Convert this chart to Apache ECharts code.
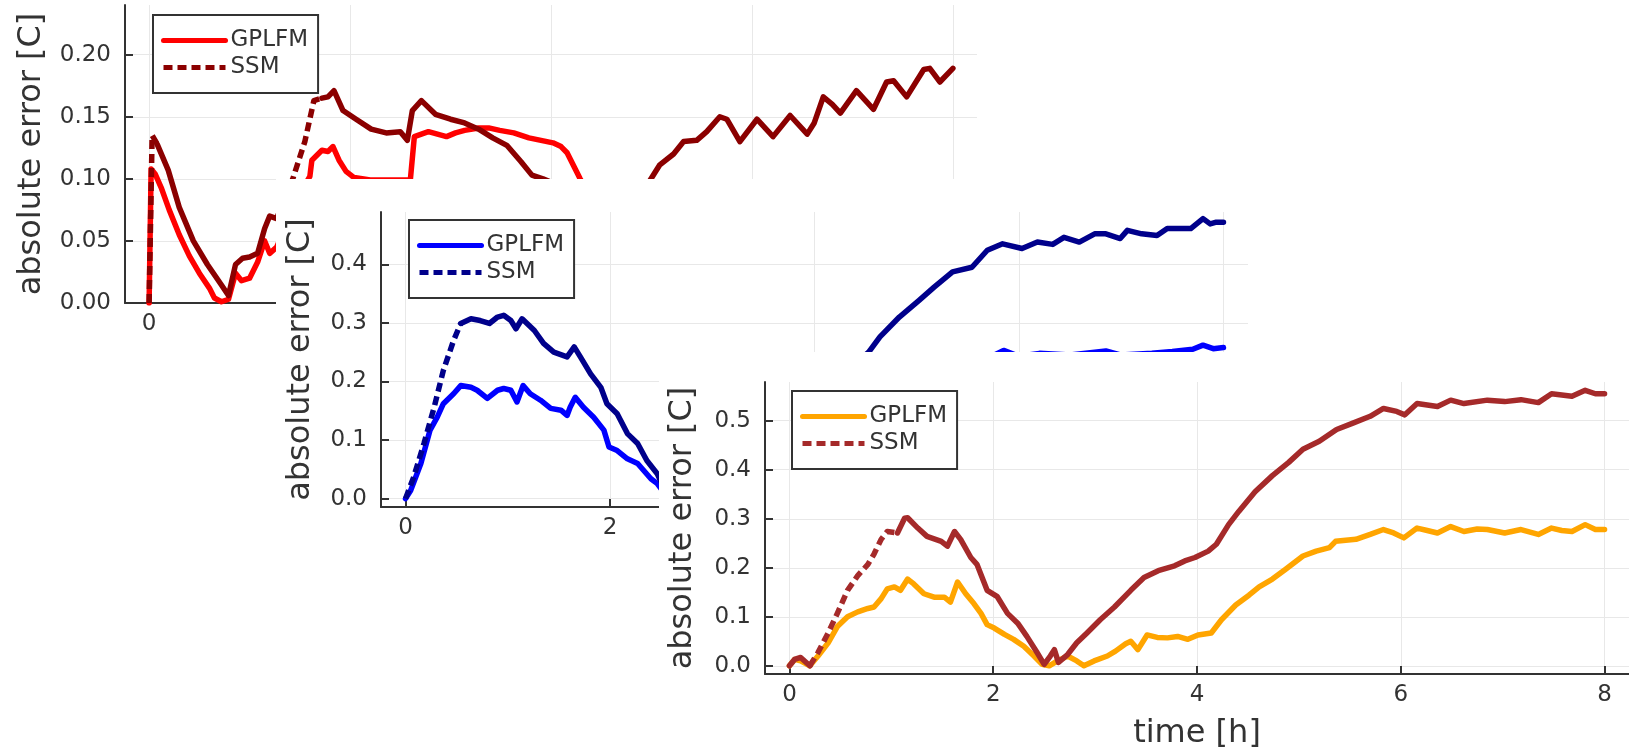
<!DOCTYPE html>
<html lang="en">
<head>
    <meta charset="UTF-8">
    <title>absolute error, three runs</title>
    <script src="https://cdn.jsdelivr.net/npm/echarts@6/dist/echarts.min.js"></script>
    <style>
        body {
            margin: 0;
            width: 1629px;
            height: 755px;
            overflow: hidden;
            background: #fff;
        }
        .fig {
            position: absolute;
            background: #fff;
        }
    </style>
</head>
<body>
<div class="fig" id="fig1" style="left:0;top:0;width:1629px;height:755px;z-index:1"></div>
<div class="fig" id="fig2" style="left:276px;top:179px;width:1353px;height:576px;z-index:2"></div>
<div class="fig" id="fig3" style="left:659px;top:352px;width:970px;height:403px;z-index:3"></div>

<script>
    const FONT = 'DejaVu Sans';
    const xTicks = [0, 2, 4, 6, 8];

    // plot 1 (red) - [time h, abs error]
    const gplfm1 = [[0,0],[0.02,0.108],[0.06,0.104],[0.12,0.093],[0.2,0.075],[0.3,0.055],[0.4,0.038],[0.5,0.024],
        [0.6,0.012],[0.65,0.004],[0.72,0.001],[0.79,0.003],[0.86,0.024],[0.92,0.018],[1.0,0.02],[1.08,0.033],
        [1.15,0.05],[1.2,0.04],[1.27,0.045],[1.35,0.06],[1.45,0.08],[1.55,0.095],[1.6,0.102],[1.62,0.115],
        [1.72,0.123],[1.78,0.122],[1.83,0.126],[1.89,0.115],[1.96,0.106],[2.04,0.101],[2.2,0.099],[2.4,0.099],
        [2.6,0.099],[2.64,0.134],[2.78,0.138],[2.96,0.134],[3.05,0.137],[3.14,0.139],[3.28,0.141],[3.38,0.141],
        [3.49,0.139],[3.63,0.137],[3.78,0.133],[3.9,0.131],[4.02,0.129],[4.1,0.126],[4.16,0.121],[4.29,0.1],
        [4.5,0.07],[5.0,0.06],[5.5,0.07],[6.0,0.075],[6.5,0.08],[7.0,0.085],[7.5,0.09],[8.0,0.09]];
    const ssm1 = [[0,0],[0.03,0.135],[0.08,0.128],[0.19,0.107],[0.3,0.077],[0.44,0.05],[0.58,0.031],[0.72,0.0145],
        [0.79,0.006],[0.86,0.031],[0.93,0.036],[1.0,0.037],[1.08,0.04],[1.15,0.06],[1.2,0.07],[1.27,0.068],
        [1.35,0.085],[1.43,0.1],[1.55,0.13],[1.64,0.163],[1.72,0.165],[1.78,0.166],[1.84,0.171],[1.93,0.155],
        [2.06,0.148],[2.21,0.14],[2.36,0.137],[2.5,0.138],[2.57,0.131],[2.62,0.155],[2.71,0.163],[2.85,0.152],
        [3.0,0.148],[3.14,0.145],[3.28,0.14],[3.42,0.133],[3.56,0.127],[3.7,0.114],[3.81,0.103],[3.92,0.1],
        [3.98,0.098],[4.2,0.085],[4.5,0.075],[4.8,0.085],[4.98,0.098],[5.08,0.111],[5.22,0.12],[5.32,0.13],
        [5.45,0.131],[5.55,0.138],[5.68,0.15],[5.75,0.148],[5.88,0.13],[6.05,0.148],[6.21,0.134],[6.38,0.151],
        [6.55,0.136],[6.62,0.145],[6.71,0.166],[6.8,0.16],[6.88,0.153],[7.04,0.171],[7.21,0.156],[7.34,0.178],
        [7.41,0.179],[7.54,0.166],[7.71,0.188],[7.77,0.189],[7.87,0.178],[8.0,0.189]];

    // plot 2 (blue)
    const gplfm2 = [[0,0],[0.05,0.014],[0.15,0.06],[0.24,0.117],[0.31,0.139],[0.37,0.162],[0.47,0.179],[0.54,0.193],
        [0.64,0.19],[0.7,0.185],[0.8,0.171],[0.9,0.185],[0.96,0.188],[1.03,0.185],[1.09,0.165],[1.15,0.193],
        [1.22,0.179],[1.32,0.168],[1.42,0.154],[1.52,0.151],[1.58,0.142],[1.61,0.156],[1.66,0.173],[1.74,0.156],
        [1.84,0.139],[1.94,0.117],[1.99,0.088],[2.07,0.082],[2.17,0.068],[2.27,0.06],[2.4,0.034],[2.46,0.026],
        [2.55,0.005],[2.7,0.01],[2.9,0.0],[3.1,0.015],[3.4,0.03],[3.7,0.045],[4.0,0.05],[4.3,0.09],[4.6,0.13],
        [4.9,0.17],[5.2,0.2],[5.5,0.225],[5.7,0.24],[5.85,0.253],[6.0,0.243],[6.2,0.248],[6.5,0.245],[6.85,0.252],
        [7.0,0.245],[7.3,0.248],[7.5,0.251],[7.7,0.255],[7.8,0.262],[7.9,0.256],[8.0,0.258]];
    const ssm2 = [[0,0],[0.08,0.037],[0.18,0.094],[0.28,0.156],[0.37,0.219],[0.47,0.27],[0.54,0.299],[0.64,0.307],
        [0.73,0.304],[0.82,0.299],[0.9,0.31],[0.96,0.313],[1.03,0.304],[1.08,0.29],[1.14,0.307],[1.26,0.287],
        [1.35,0.265],[1.45,0.25],[1.58,0.242],[1.65,0.259],[1.71,0.242],[1.81,0.213],[1.91,0.19],[1.97,0.162],
        [2.07,0.145],[2.17,0.111],[2.27,0.094],[2.36,0.065],[2.46,0.043],[2.55,0.01],[2.65,0.02],[2.8,0.04],
        [3.0,0.07],[3.3,0.11],[3.6,0.15],[3.9,0.18],[4.2,0.2],[4.4,0.23],[4.53,0.25],[4.64,0.276],[4.83,0.31],
        [5.02,0.338],[5.17,0.361],[5.35,0.387],[5.54,0.395],[5.69,0.424],[5.84,0.435],[6.03,0.427],[6.18,0.438],
        [6.33,0.434],[6.44,0.446],[6.59,0.438],[6.74,0.452],[6.85,0.452],[6.99,0.444],[7.06,0.458],[7.2,0.452],
        [7.35,0.449],[7.45,0.461],[7.68,0.461],[7.8,0.478],[7.87,0.469],[7.93,0.472],[8.0,0.472]];

    // plot 3 (orange / brown)
    const gplfm3 = [[0,0],[0.05,0.013],[0.11,0.01],[0.2,0.0],[0.28,0.02],[0.38,0.047],[0.47,0.08],[0.57,0.1],
        [0.67,0.11],[0.77,0.117],[0.83,0.12],[0.9,0.137],[0.96,0.157],[1.03,0.161],[1.09,0.154],[1.16,0.177],
        [1.22,0.167],[1.32,0.147],[1.42,0.14],[1.52,0.14],[1.58,0.13],[1.65,0.171],[1.73,0.147],[1.81,0.127],
        [1.88,0.107],[1.94,0.084],[2.01,0.077],[2.11,0.064],[2.2,0.054],[2.3,0.04],[2.4,0.02],[2.48,0.003],
        [2.55,0],[2.63,0.01],[2.73,0.02],[2.82,0.01],[2.89,0.0],[2.99,0.01],[3.12,0.02],[3.2,0.03],[3.3,0.045],
        [3.35,0.05],[3.42,0.033],[3.51,0.063],[3.61,0.058],[3.71,0.057],[3.81,0.06],[3.91,0.054],[4.01,0.063],
        [4.14,0.067],[4.24,0.094],[4.38,0.124],[4.51,0.144],[4.61,0.161],[4.74,0.177],[4.87,0.197],[5.04,0.224],
        [5.17,0.234],[5.3,0.241],[5.36,0.254],[5.56,0.258],[5.7,0.268],[5.83,0.278],[5.93,0.271],[6.03,0.261],
        [6.16,0.281],[6.26,0.276],[6.36,0.271],[6.49,0.284],[6.62,0.274],[6.75,0.279],[6.85,0.278],[7.02,0.271],
        [7.18,0.278],[7.35,0.268],[7.48,0.281],[7.58,0.276],[7.68,0.274],[7.81,0.288],[7.91,0.278],[8.0,0.278]];
    const ssm3 = [[0,0],[0.05,0.013],[0.11,0.017],[0.2,0],[0.28,0.027],[0.38,0.067],[0.47,0.107],[0.57,0.154],
        [0.67,0.184],[0.77,0.207],[0.83,0.228],[0.9,0.258],[0.96,0.274],[1.06,0.271],[1.13,0.301],[1.16,0.302],
        [1.26,0.281],[1.35,0.264],[1.49,0.254],[1.55,0.244],[1.62,0.274],[1.68,0.258],[1.78,0.221],[1.84,0.207],
        [1.94,0.154],[2.04,0.141],[2.14,0.107],[2.24,0.087],[2.33,0.06],[2.43,0.027],[2.5,0.003],[2.56,0.02],
        [2.6,0.033],[2.64,0.007],[2.73,0.023],[2.82,0.047],[2.92,0.067],[3.05,0.094],[3.19,0.12],[3.35,0.154],
        [3.48,0.18],[3.62,0.194],[3.78,0.204],[3.88,0.214],[3.98,0.221],[4.11,0.234],[4.19,0.248],[4.31,0.288],
        [4.41,0.315],[4.57,0.355],[4.74,0.388],[4.9,0.415],[5.04,0.442],[5.2,0.458],[5.37,0.482],[5.53,0.495],
        [5.7,0.509],[5.83,0.525],[5.96,0.519],[6.04,0.512],[6.16,0.535],[6.36,0.529],[6.49,0.542],[6.62,0.535],
        [6.85,0.542],[7.02,0.539],[7.18,0.543],[7.35,0.537],[7.48,0.555],[7.68,0.55],[7.81,0.562],[7.91,0.555],
        [8.0,0.555]];

    // GR only shows the dash pattern on the steep parts
    function splitDash(points, ranges) {
        const inDash = t => ranges.some(r => t >= r[0] && t <= r[1]);
        const n = points.length;
        const dashed = points.map((p, i) => (inDash(p[0]) || (i > 0 && inDash(points[i - 1][0])) ||
            (i < n - 1 && inDash(points[i + 1][0]))) ? p : [p[0], '-']);
        const solid = points.map(p => inDash(p[0]) ? [p[0], '-'] : p);
        return {dashed, solid};
    }

    function buildOption(cfg) {
        const ssm = splitDash(cfg.ssm, cfg.dash);
        const axisColor = '#333';
        const line = (name, data, color, type) => ({
            type: 'line',
            name,
            data,
            symbol: 'none',
            showSymbol: false,
            clip: true,
            itemStyle: {color},
            lineStyle: {color, width: 5.5, type: type || 'solid', cap: type ? 'butt' : 'round', join: 'round'}
        });
        return {
            backgroundColor: '#ffffff',
            animation: false,
            textStyle: {fontFamily: FONT},
            grid: cfg.grid,
            legend: {
                orient: 'vertical',
                left: cfg.legend[0],
                top: cfg.legend[1],
                padding: [14, 10, 14, 8],
                itemWidth: 62,
                itemHeight: 14,
                itemGap: 4,
                borderColor: axisColor,
                borderWidth: 2,
                borderRadius: 0,
                backgroundColor: '#fff',
                selectedMode: false,
                // no marker on the legend line, only the stroke
                itemStyle: {color: 'rgba(0,0,0,0)', borderWidth: 0, opacity: 0},
                lineStyle: {width: 5},
                textStyle: {fontSize: 23, lineHeight: 23, color: axisColor, fontFamily: FONT},
                data: ['GPLFM', {name: 'SSM', lineStyle: {type: [9, 5]}}]
            },
            xAxis: {
                type: 'value',
                min: -0.24,
                max: 8.24,
                name: 'time [h]',
                nameLocation: 'middle',
                nameGap: 44,
                nameTextStyle: {fontSize: 32, color: axisColor, fontFamily: FONT},
                axisLine: {show: true, onZero: false, lineStyle: {color: axisColor, width: 2}},
                axisTick: {show: true, inside: true, length: 8, customValues: xTicks, lineStyle: {color: axisColor, width: 2}},
                axisLabel: {customValues: xTicks, fontSize: 23, color: axisColor, margin: 10, fontFamily: FONT},
                splitLine: {show: true, lineStyle: {color: '#e8e8e8', width: 1}}
            },
            yAxis: {
                type: 'value',
                min: cfg.yRange[0],
                max: cfg.yRange[1],
                name: 'absolute error [C]',
                nameLocation: 'middle',
                nameGap: cfg.nameGap,
                nameTextStyle: {fontSize: 32, color: axisColor, fontFamily: FONT},
                axisLine: {show: true, onZero: false, lineStyle: {color: axisColor, width: 2}},
                axisTick: {show: true, inside: true, length: 8, customValues: cfg.yTicks, lineStyle: {color: axisColor, width: 2}},
                axisLabel: {
                    customValues: cfg.yTicks,
                    fontSize: 23,
                    color: axisColor,
                    margin: 14,
                    fontFamily: FONT,
                    formatter: v => v.toFixed(cfg.decimals)
                },
                splitLine: {show: true, lineStyle: {color: '#e8e8e8', width: 1}}
            },
            series: [
                line('GPLFM', cfg.gplfm, cfg.colors[0]),
                line('SSM', ssm.dashed, cfg.colors[1], [9, 5]),
                line('SSM', ssm.solid, cfg.colors[1])
            ]
        };
    }

    const figs = [
        {
            el: 'fig1', gplfm: gplfm1, ssm: ssm1, dash: [[0, 0.03], [1.36, 1.66]],
            colors: ['#ff0000', '#8b0000'],
            grid: {left: 125, top: 5, width: 852, height: 298},
            yRange: [0, 0.24], yTicks: [0, 0.05, 0.1, 0.15, 0.2], decimals: 2,
            nameGap: 77, legend: [153, 15]
        },
        {
            el: 'fig2', gplfm: gplfm2, ssm: ssm2, dash: [[0, 0.5]],
            colors: ['#0000ff', '#00008b'],
            grid: {left: 105, top: 33, width: 867, height: 295},
            yRange: [-0.0143, 0.4893], yTicks: [0, 0.1, 0.2, 0.3, 0.4], decimals: 1,
            nameGap: 64, legend: [133, 41]
        },
        {
            el: 'fig3', gplfm: gplfm3, ssm: ssm3, dash: [[0.25, 0.96]],
            colors: ['#ffa500', '#a52a2a'],
            grid: {left: 105, top: 30, width: 865, height: 296},
            yRange: [-0.0167, 0.579], yTicks: [0, 0.1, 0.2, 0.3, 0.4, 0.5], decimals: 1,
            nameGap: 66, legend: [133, 39]
        }
    ];

    figs.forEach(cfg => {
        const chart = echarts.init(document.getElementById(cfg.el));
        chart.setOption(buildOption(cfg));
    });
</script>
</body>
</html>
